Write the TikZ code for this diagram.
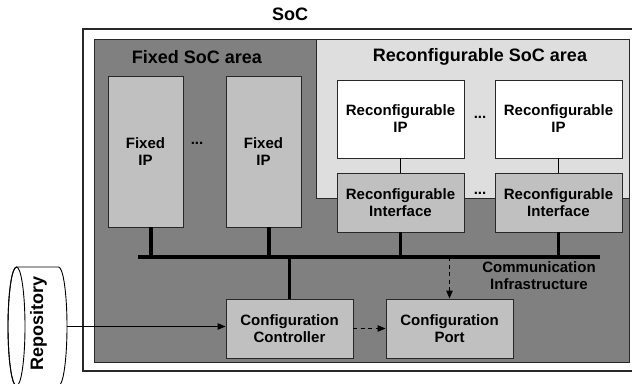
\documentclass[tikz,border=0pt]{standalone}
\usepackage{fontspec}
\setmainfont{Liberation Sans}
\usetikzlibrary{arrows.meta}
\definecolor{darkarea}{RGB}{128,128,128}
\definecolor{lightarea}{RGB}{222,222,222}
\definecolor{boxgray}{RGB}{192,192,192}
\definecolor{framecol}{RGB}{40,40,40}
\begin{document}
\begin{tikzpicture}[x=1pt,y=-1pt,
  box/.style={draw=framecol, line width=0.9pt, inner sep=0pt, align=center,
    font=\fontsize{15}{17}\selectfont\bfseries},
  graybox/.style={box, fill=boxgray},
  whitebox/.style={box, fill=white},
  lbl/.style={inner sep=0pt, align=center, font=\fontsize{15}{17}\selectfont\bfseries},
  biglbl/.style={inner sep=0pt, font=\fontsize{18}{20}\selectfont\bfseries},
  stub/.style={line width=3.5pt},
  busline/.style={line width=4.5pt},
  thin/.style={line width=0.9pt},
  dasharrow/.style={line width=1pt, dash pattern=on 4pt off 3.5pt, -{Triangle[length=8pt,width=6.5pt]}},
  solidarrow/.style={line width=1pt, -{Triangle[length=8pt,width=6.5pt]}}]
\useasboundingbox (0,0) rectangle (632,383);
\clip (0,0) rectangle (632,383);
% areas
\draw[framecol, line width=1.3pt, fill=white] (83,29) rectangle (650,371);
\draw[framecol, line width=0.9pt, fill=darkarea] (94,39) rectangle (629,362);
\draw[framecol, line width=0.9pt, fill=lightarea] (316,39) rectangle (629,198);
% titles
\node[biglbl] (soc) at (290,14) {SoC};
\node[biglbl] (fixedarea) at (197,57) {Fixed SoC area};
\node[biglbl] (recarea) at (480,57) {Reconfigurable SoC area};
% fixed IPs
\node[graybox, minimum width=75pt, minimum height=151pt] (fip1) at (145.5,151.5) {Fixed\\IP};
\node[graybox, minimum width=75pt, minimum height=151pt] (fip2) at (263.5,151.5) {Fixed\\IP};
\node[lbl] (dots1) at (197,143) {...};
% reconfigurable IPs and interfaces
\node[whitebox, minimum width=127pt, minimum height=78pt] (rip1) at (400.5,119) {Reconfigurable\\IP};
\node[whitebox, minimum width=127pt, minimum height=78pt] (rip2) at (558.5,119) {Reconfigurable\\IP};
\node[lbl] (dots2) at (480,117) {...};
\node[graybox, minimum width=127pt, minimum height=59pt] (rif1) at (400.5,202.5) {Reconfigurable\\Interface};
\node[graybox, minimum width=127pt, minimum height=59pt] (rif2) at (558.5,202.5) {Reconfigurable\\Interface};
\node[lbl] (dots3) at (480,193) {...};
\draw[thin] (rip1.south) -- (rif1.north);
\draw[thin] (rip2.south) -- (rif2.north);
% configuration
\node[graybox, minimum width=127pt, minimum height=59pt] (ctrl) at (289.5,328.5) {Configuration\\Controller};
\node[graybox, minimum width=127pt, minimum height=59pt] (port) at (449.5,328.5) {Configuration\\Port};
% bus
\coordinate (busL) at (138,257);
\coordinate (busR) at (600,257);
\draw[busline] (busL) -- (busR);
\node[lbl] (comm) at (539,276) {Communication\\Infrastructure};
\coordinate (s1) at ([xshift=5.5pt]fip1.south);
\coordinate (s2) at ([xshift=5.5pt]fip2.south);
\draw[stub] (s1) -- (s1 |- busL);
\draw[stub] (s2) -- (s2 |- busL);
\draw[stub] (rif1.south) -- (rif1.south |- busL);
\draw[stub] (rif2.south) -- (rif2.south |- busL);
\draw[stub] (ctrl.north) -- (ctrl.north |- busL);
\draw[dasharrow] (port.north |- busL) -- (port.north);
\draw[dasharrow] (ctrl.east) -- (port.west);
% repository
\draw[line width=0.9pt, fill=white] (16.5,267) -- (58.5,267)
  arc[start angle=-90, end angle=90, x radius=8.5, y radius=59.5]
  -- (16.5,386) arc[start angle=90, end angle=270, x radius=8.5, y radius=59.5] -- cycle;
\draw[line width=0.9pt] (16.5,326.5) ellipse[x radius=8.5, y radius=59.5];
\node[biglbl, rotate=90] (repo) at (38.5,323) {Repository};
\coordinate (repoR) at (67,326.5);
\draw[solidarrow] (repoR) -- (repoR -| ctrl.west);
\end{tikzpicture}
\end{document}
